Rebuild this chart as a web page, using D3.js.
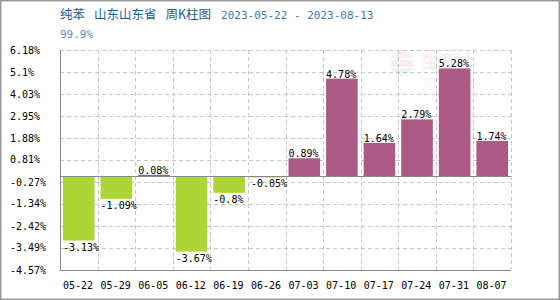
<!DOCTYPE html>
<html>
<head>
<meta charset="utf-8">
<script src="https://d3js.org/d3.v7.min.js"></script>
<style>
  body { margin: 0; background: #fff; }
  svg { display: block; }
</style>
</head>
<body>
<script>
// data
var weeks = ["05-22", "05-29", "06-05", "06-12", "06-19", "06-26", "07-03", "07-10", "07-17", "07-24", "07-31", "08-07"];
var changes = [-3.13, -1.09, 0.08, -3.67, -0.8, -0.05, 0.89, 4.78, 1.64, 2.79, 5.28, 1.74];
var yTicks = [6.18, 5.1, 4.03, 2.95, 1.88, 0.81, -0.27, -1.34, -2.42, -3.49, -4.57];
var titleCn = ["纯苯", "山东山东省", "周K柱图"];
var titleDates = "2023-05-22 - 2023-08-13";
var subTitle = "99.9%";

window.onload = function() {

  var w = 560;
  var h = 300;
  var margin = {top: 50, right: 49, bottom: 30, left: 60};
  var graphWidth = w - margin.left - margin.right;
  var graphHeight = h - margin.top - margin.bottom;
  var mono = "'DejaVu Sans Mono', 'Liberation Mono', monospace";

  var svg = d3.select("body")
              .append("svg")
              .attr("width", w)
              .attr("height", h);

  // outer frame
  svg.append("rect")
     .attr("x", 0.75).attr("y", 0.75)
     .attr("width", w - 1.5).attr("height", h - 1.5)
     .attr("fill", "#fff")
     .attr("stroke", "#999")
     .attr("stroke-width", 1.5);

  // title
  var title = svg.append("text")
                 .attr("x", margin.left)
                 .attr("y", 19)
                 .attr("fill", "#1d5b8c");
  titleCn.forEach(function(t, i){
    title.append("tspan")
         .attr("dx", i == 0 ? 0 : 9)
         .style("font-family", "'Noto Sans CJK SC', sans-serif")
         .style("font-size", "12.5px")
         .text(t);
  });
  title.append("tspan")
       .attr("dx", 10)
       .style("font-family", mono)
       .style("font-size", "11px")
       .attr("fill", "#3f78a8")
       .text(titleDates);

  svg.append("text")
     .attr("x", margin.left)
     .attr("y", 38)
     .style("font-family", mono)
     .style("font-size", "11px")
     .attr("fill", "#5a8cbc")
     .text(subTitle);

  var graph = svg.append("g")
                 .attr("transform", `translate(${margin.left}, ${margin.top})`);

  // scales
  var yScale = d3.scaleLinear()
                 .domain([d3.min(yTicks), d3.max(yTicks)])
                 .range([graphHeight, 0]);

  var slot = d3.scaleBand()
               .domain(weeks)
               .range([0, graphWidth])
               .padding(0);

  var xScale = d3.scaleBand()
                 .domain(weeks)
                 .range([0, graphWidth])
                 .paddingInner(0.16)
                 .paddingOuter(0.08);

  // dashed grid made of small rects (4px dash, 3px gap)
  var gridColor = "#c6c6c6";
  var hDashes = [];
  yTicks.forEach(function(t){
    d3.range(0, graphWidth, 7).forEach(function(s){
      hDashes.push({x: s, y: Math.round(yScale(t)), w: Math.min(4, graphWidth - s), h: 1});
    });
  });
  var edges = weeks.slice(1).map(d => slot(d)).concat([graphWidth]);
  edges.forEach(function(e){
    d3.range(0, graphHeight, 7).forEach(function(s){
      hDashes.push({x: Math.round(e), y: s, w: 1, h: Math.min(4, graphHeight - s)});
    });
  });

  graph.append("g")
       .attr("class", "grid")
       .selectAll("rect")
       .data(hDashes)
       .enter()
       .append("rect")
       .attr("x", d => d.x)
       .attr("y", d => d.y)
       .attr("width", d => d.w)
       .attr("height", d => d.h)
       .attr("fill", gridColor);

  // watermark
  var wm = graph.append("g").attr("opacity", 0.08);
  wm.append("path")
    .attr("d", "M330,8 L342,-1 L354,8 Z")
    .attr("fill", "#c0392b");
  wm.append("path")
    .attr("d", "M330,18 L342,27 L354,18 Z")
    .attr("fill", "#2e8b57");
  wm.append("rect")
    .attr("x", 331).attr("y", 10).attr("width", 22).attr("height", 7)
    .attr("fill", "#c0392b");
  wm.append("text")
    .attr("x", 362).attr("y", 18)
    .style("font-family", "'Noto Sans CJK SC', sans-serif")
    .style("font-size", "17px").style("font-weight", "bold")
    .attr("fill", "#c0392b")
    .text("生意社");
  wm.append("text")
    .attr("x", 362).attr("y", 36)
    .style("font-family", "Arial, sans-serif")
    .style("font-size", "10px")
    .attr("fill", "#666")
    .text("100PPI.COM");

  // bars
  var data = weeks.map(function(d, i){ return {week: d, value: changes[i]}; });

  graph.selectAll("rect.bar")
       .data(data)
       .enter()
       .append("rect")
       .attr("class", "bar")
       .attr("x", d => xScale(d.week))
       .attr("width", xScale.bandwidth())
       .attr("y", d => yScale(Math.max(0, d.value)))
       .attr("height", d => Math.abs(yScale(d.value) - yScale(0)))
       .attr("fill", d => d.value >= 0 ? "#ab5a84" : "#add634");

  // value labels
  graph.selectAll("text.val")
       .data(data)
       .enter()
       .append("text")
       .attr("class", "val")
       .attr("x", d => xScale(d.week))
       .attr("y", d => d.value >= 0 ? yScale(d.value) - 1 : yScale(d.value) + 10)
       .style("font-family", mono)
       .style("font-size", "10px")
       .attr("fill", "#000")
       .text(d => d.value + "%");

  // axes lines
  graph.append("line")
       .attr("x1", 0).attr("x2", graphWidth)
       .attr("y1", Math.round(yScale(0)) + 0.5).attr("y2", Math.round(yScale(0)) + 0.5)
       .attr("stroke", "#888");
  graph.append("line")
       .attr("x1", 0.5).attr("x2", 0.5)
       .attr("y1", 0).attr("y2", graphHeight)
       .attr("stroke", "#888");
  graph.append("line")
       .attr("x1", 0).attr("x2", graphWidth)
       .attr("y1", graphHeight + 0.5).attr("y2", graphHeight + 0.5)
       .attr("stroke", "#888");

  // y tick labels (left aligned)
  svg.selectAll("text.ylab")
     .data(yTicks)
     .enter()
     .append("text")
     .attr("class", "ylab")
     .attr("x", 10)
     .attr("y", d => margin.top + yScale(d))
     .attr("dy", "0.35em")
     .style("font-family", mono)
     .style("font-size", "10px")
     .attr("fill", "#000")
     .text(d => d + "%");

  // x tick labels
  graph.selectAll("text.xlab")
       .data(weeks)
       .enter()
       .append("text")
       .attr("class", "xlab")
       .attr("x", d => xScale(d))
       .attr("y", graphHeight + 15)
       .attr("dy", "0.35em")
       .style("font-family", mono)
       .style("font-size", "10px")
       .attr("fill", "#000")
       .text(d => d);
}
</script>
</body>
</html>
